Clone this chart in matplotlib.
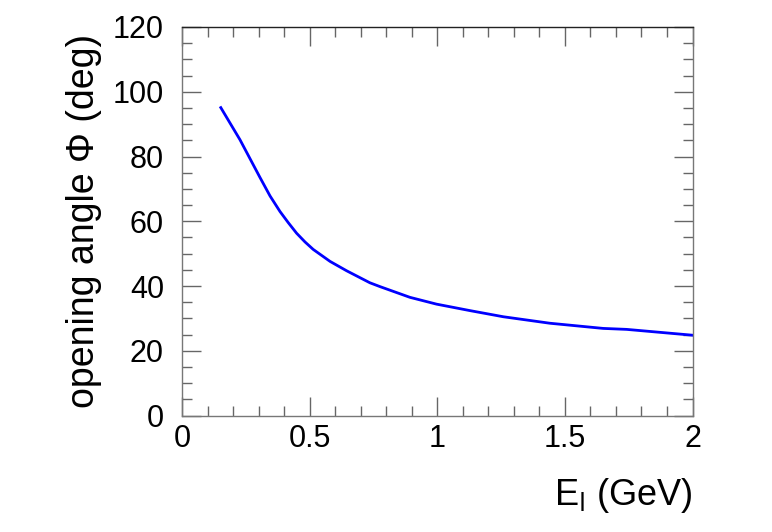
import numpy as np
import matplotlib.pyplot as plt
from matplotlib.ticker import MultipleLocator

# values
energy = [0.152, 0.227, 0.305, 0.345, 0.384, 0.416, 0.449, 0.482, 0.514,
          0.58, 0.645, 0.736, 0.776, 0.893, 0.997, 1.128, 1.259, 1.441,
          1.65, 1.742, 2.0]
angle = [95.1, 85.2, 73.6, 67.8, 63.0, 59.6, 56.3, 53.6, 51.3,
         47.6, 44.7, 41.0, 39.8, 36.5, 34.4, 32.4, 30.5, 28.5,
         26.9, 26.6, 24.8]

plt.rcParams['font.family'] = ['Liberation Sans', 'DejaVu Sans']

fig = plt.figure(figsize=(7.72, 5.32), dpi=100)
ax = fig.add_axes([182 / 772, 1 - 415.5 / 532, (692.5 - 182) / 772, (415.5 - 27) / 532])

ax.plot(energy, angle, color='#0000ff', lw=2)

ax.set_xlim(0, 2)
ax.set_ylim(0, 120)
ax.xaxis.set_major_locator(MultipleLocator(0.5))
ax.xaxis.set_minor_locator(MultipleLocator(0.1))
ax.yaxis.set_major_locator(MultipleLocator(20))
ax.yaxis.set_minor_locator(MultipleLocator(5))
ax.xaxis.set_major_formatter(plt.FuncFormatter(lambda v, p: f'{v:g}'))

ax.tick_params(which='both', direction='in', top=True, right=True, color='#666666',
               labelsize=22, width=1)
ax.tick_params(which='major', length=14)
ax.tick_params(which='minor', length=7)
ax.tick_params(axis='x', pad=6)
ax.tick_params(axis='y', pad=13)
for s in ax.spines.values():
    s.set_color('#777777')
    s.set_linewidth(1)
ax.spines['top'].set_color('#222222')

ax.set_ylabel('opening angle Φ (deg)', fontsize=27, labelpad=8)
ax.set_xlabel(r'E$_\mathrm{l}$ (GeV)', fontsize=26, loc='right', labelpad=16)

fig.savefig('out.png', dpi=100)
